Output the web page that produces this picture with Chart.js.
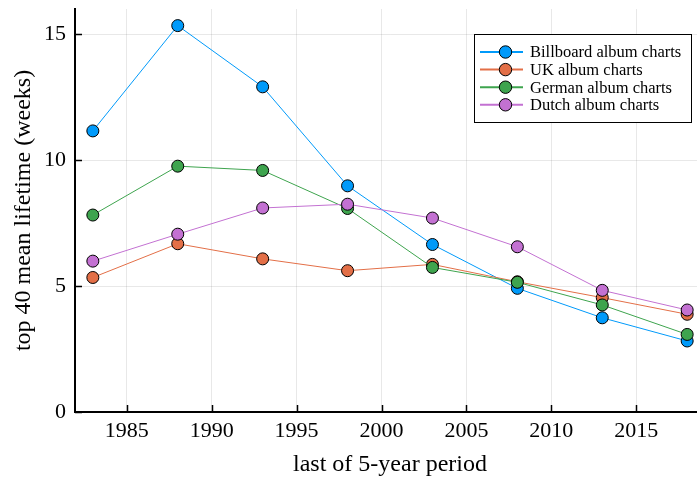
<!DOCTYPE html>
<html>
<head>
<meta charset="utf-8">
<script src="https://cdn.jsdelivr.net/npm/chart.js@4"></script>
<style>
  html, body { margin: 0; padding: 0; background: #fff; overflow: hidden; }
  #wrap { width: 697px; height: 478px; overflow: hidden; }
</style>
</head>
<body>
<!-- the original figure is cropped a few pixels short of its right edge -->
<div id="wrap"><canvas id="lifetimeChart" width="705" height="478"></canvas></div>
<script>
// values
const years = [1983, 1988, 1993, 1998, 2003, 2008, 2013, 2018];
const billboard = [11.16, 15.34, 12.91, 8.98, 6.65, 4.91, 3.74, 2.82];
const uk = [5.34, 6.68, 6.08, 5.61, 5.86, 5.17, 4.54, 3.88];
const german = [7.82, 9.76, 9.59, 8.08, 5.74, 5.15, 4.25, 3.08];
const dutch = [5.99, 7.06, 8.10, 8.25, 7.70, 6.56, 4.83, 4.05];
const seriesNames = ["Billboard album charts", "UK album charts", "German album charts", "Dutch album charts"];
const seriesColors = ["#009AFA", "#E36F47", "#3EA44E", "#C371D2"];
const xTicks = [1985, 1990, 1995, 2000, 2005, 2010, 2015];
const yTicks = [0, 5, 10, 15];

const serif = "'Liberation Serif', 'DejaVu Serif', serif";

const makeDataset = (values, i) => ({
  label: seriesNames[i],
  data: years.map((yr, k) => ({ x: yr, y: values[k] })),
  borderColor: seriesColors[i],
  borderWidth: 1,
  pointRadius: 6,
  pointHoverRadius: 6,
  pointBackgroundColor: seriesColors[i],
  pointBorderColor: "#000",
  pointBorderWidth: 1,
  order: 3 - i, // later series drawn on top
  tension: 0,
});

// inward tick marks + boxed legend like the original
const plotsLook = {
  id: "plotsLook",
  beforeDatasetsDraw(chart) {
    const { ctx, chartArea, scales } = chart;
    ctx.save();
    ctx.strokeStyle = "#000";
    ctx.lineWidth = 1.5;
    ctx.beginPath();
    xTicks.forEach((v) => {
      const px = Math.round(scales.x.getPixelForValue(v)) + 0.5;
      ctx.moveTo(px, chartArea.bottom);
      ctx.lineTo(px, chartArea.bottom - 7);
    });
    yTicks.forEach((v) => {
      const py = Math.round(scales.y.getPixelForValue(v)) + 0.5;
      ctx.moveTo(chartArea.left, py);
      ctx.lineTo(chartArea.left + 7, py);
    });
    ctx.stroke();
    ctx.restore();
  },
  afterDraw(chart) {
    const { ctx, chartArea } = chart;
    const bw = 217, bh = 88;
    const bx = chartArea.right - 231, by = chartArea.top + 25;
    ctx.save();
    ctx.fillStyle = "#fff";
    ctx.fillRect(bx, by, bw, bh);
    ctx.strokeStyle = "#000";
    ctx.lineWidth = 1;
    ctx.strokeRect(bx + 0.5, by + 0.5, bw, bh);
    ctx.font = "16.5px " + serif;
    ctx.textBaseline = "middle";
    chart.data.datasets.forEach((ds, i) => {
      const cy = by + 18 + i * 17.6;
      ctx.strokeStyle = ds.borderColor;
      ctx.lineWidth = 2;
      ctx.beginPath();
      ctx.moveTo(bx + 6, cy);
      ctx.lineTo(bx + 49, cy);
      ctx.stroke();
      ctx.beginPath();
      ctx.arc(bx + 31.5, cy, 6.2, 0, Math.PI * 2);
      ctx.fillStyle = ds.pointBackgroundColor;
      ctx.fill();
      ctx.strokeStyle = "#000";
      ctx.lineWidth = 1;
      ctx.stroke();
      ctx.fillStyle = "#000";
      ctx.fillText(ds.label, bx + 56, cy + 1);
    });
    ctx.restore();
  },
};

new Chart(document.getElementById("lifetimeChart"), {
  type: "line",
  data: {
    datasets: [billboard, uk, german, dutch].map(makeDataset),
  },
  options: {
    responsive: false,
    animation: false,
    layout: { autoPadding: false, padding: { top: 9, right: 0, left: 0, bottom: 0 } },
    plugins: {
      legend: { display: false },
      tooltip: { enabled: false },
    },
    scales: {
      x: {
        type: "linear",
        min: 1981.95,
        max: 2019.05,
        afterBuildTicks: (s) => { s.ticks = xTicks.map((v) => ({ value: v })); },
        afterFit: (s) => { s.height = 66; s.paddingLeft = 0; s.paddingRight = 0; },
        grid: { color: "rgba(0,0,0,0.09)", lineWidth: 1, drawTicks: false },
        border: { color: "#000", width: 2 },
        ticks: {
          color: "#000",
          font: { family: serif, size: 22 },
          padding: 6,
          maxRotation: 0,
          callback: (v) => String(v),
        },
        title: {
          display: true,
          text: "last of 5-year period",
          color: "#000",
          font: { family: serif, size: 24, lineHeight: 1 },
          padding: { top: 0, bottom: 1 },
        },
      },
      y: {
        min: 0,
        max: 16,
        afterBuildTicks: (s) => { s.ticks = yTicks.map((v) => ({ value: v })); },
        afterFit: (s) => { s.width = 75; s.paddingTop = 0; s.paddingBottom = 0; },
        grid: { color: "rgba(0,0,0,0.09)", lineWidth: 1, drawTicks: false },
        border: { color: "#000", width: 2 },
        ticks: {
          color: "#000",
          font: { family: serif, size: 22 },
          padding: 9,
          callback: (v) => String(v),
        },
        title: {
          display: true,
          text: "top 40 mean lifetime (weeks)",
          color: "#000",
          font: { family: serif, size: 24, lineHeight: 1 },
          padding: { top: 12, bottom: 0 },
        },
      },
    },
  },
  plugins: [plotsLook],
});
</script>
</body>
</html>
